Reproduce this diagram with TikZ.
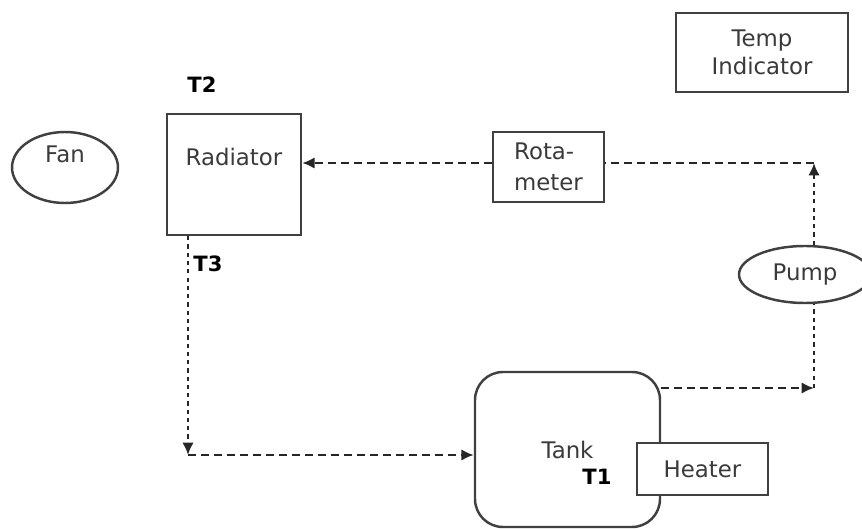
\documentclass[tikz,border=0pt]{standalone}
\usepackage{fontspec}
\setmainfont{DejaVu Sans}
\usetikzlibrary{arrows.meta,shapes.geometric}

\definecolor{linegray}{HTML}{404040}
\definecolor{textgray}{HTML}{3A3A3A}

\begin{document}
\begin{tikzpicture}[
      box/.style={draw=linegray, line width=1.4pt, text=textgray, font=\fontsize{13}{16}\selectfont},
      oval/.style={box, ellipse, inner sep=0pt},
      lbl/.style={text=textgray, font=\fontsize{13}{16}\selectfont, anchor=center},
      tag/.style={font=\fontsize{12}{14}\selectfont\bfseries},
      flow/.style={draw=black!85, line width=1.5pt, dash pattern=on 4.4pt off 3pt},
      vflow/.style={flow, dash pattern=on 2.4pt off 2.3pt},
      >={Latex[length=7pt,width=6.5pt]}
    ]

    \useasboundingbox (0,0) rectangle (17.24,10.56);

    % ---- corners of the coolant loop ----
    \def\xloop{16.28}
    \def\xdown{3.76}
    \coordinate (ctop) at (\xloop,7.30);
    \coordinate (cbot) at (\xloop,2.80);
    \coordinate (cleft) at (\xdown,1.46);

    % ================= TOP ROW =================
    \node[oval, minimum width=2.12cm, minimum height=1.42cm,
          label={[lbl, yshift=0.27cm]center:Fan}] (fan) at (1.30,7.21) {};
    \node[box, minimum width=2.68cm, minimum height=2.42cm,
          label={[lbl, yshift=-0.88cm]north:Radiator}] (rad) at (4.68,7.07) {};
    \node[box, minimum width=2.22cm, minimum height=1.40cm, align=left,
          font=\fontsize{13}{18}\selectfont] (rot) at (10.97,7.22) {Rota-\\meter};
    \node[box, minimum width=3.44cm, minimum height=1.58cm, align=center] (temp) at (15.24,9.51) {Temp\\Indicator};

    % ================= RIGHT / BOTTOM =================
    \node[oval, minimum width=2.64cm, minimum height=1.14cm] (pump) at (16.10,5.07) {Pump};
    \node[box, rounded corners=0.56cm, minimum width=3.70cm, minimum height=3.10cm] (tank) at (11.35,1.57) {Tank};
    \node[box, fill=white, minimum width=2.62cm, minimum height=1.04cm] (heater) at (14.05,1.18) {Heater};

    % temperature points
    \node[tag] (t2) at (4.04,8.86) {T2};
    \node[tag] (t3) at (4.16,5.28) {T3};
    \node[tag] (t1) at (11.94,1.02) {T1};

    % ================= dashed flow lines =================
    \draw[vflow,->] (rad.south -| cleft) -- (cleft);
    \draw[flow,->] (cleft) -- (tank.west |- cleft);
    \draw[flow,->] (tank.east |- cbot) -- (cbot);
    \draw[vflow] (cbot) -- (pump.south -| cbot);
    \draw[vflow,->] (pump.north -| ctop) -- (ctop);
    \draw[flow] (ctop) -- (rot.east |- ctop);
    \draw[flow,->] (rot.west |- ctop) -- (rad.east |- ctop);

\end{tikzpicture}
\end{document}
